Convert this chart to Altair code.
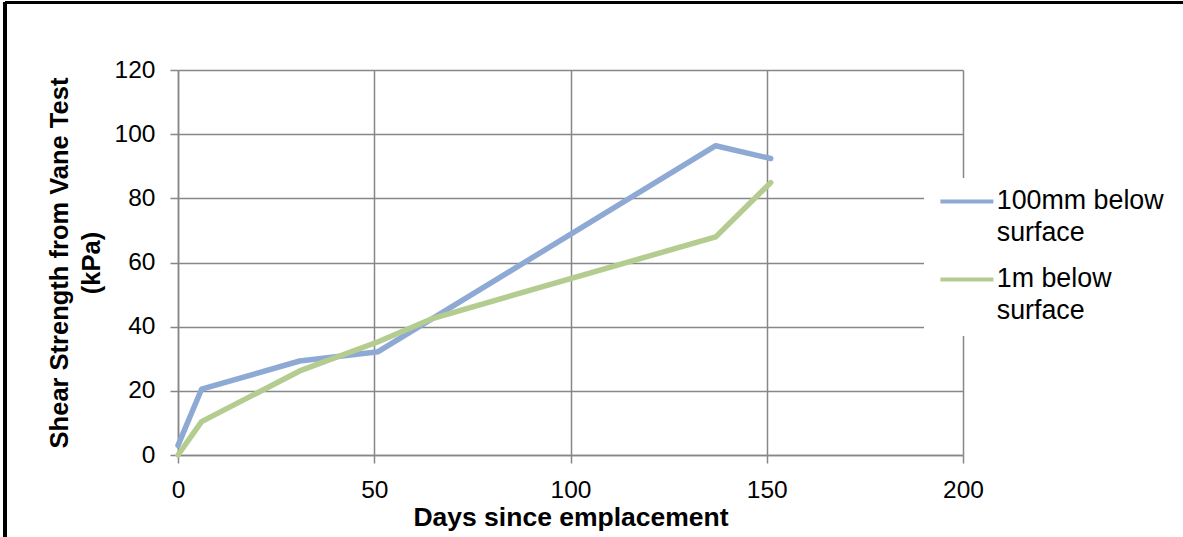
import altair as alt
import pandas as pd

# Vane test readings for the two depths
days_shallow = [0, 6, 31, 51, 137, 151]
kpa_shallow = [3, 20.5, 29.3, 32.2, 96.4, 92.4]

days_deep = [0, 6, 31, 51, 65, 137, 151]
kpa_deep = [0, 10.4, 26.2, 35.3, 42.6, 68.0, 84.9]

series_names = ["100mm below surface", "1m below surface"]
series_colors = ["#8eaad4", "#b4cc8f"]

df = pd.concat([
    pd.DataFrame({"days": days_shallow, "kpa": kpa_shallow, "series": series_names[0]}),
    pd.DataFrame({"days": days_deep, "kpa": kpa_deep, "series": series_names[1]}),
])

FONT = "Liberation Sans"
GRID = "#878787"

lines = alt.Chart(df).mark_line(strokeWidth=5.5, strokeCap="round", strokeJoin="round").encode(
    x=alt.X("days:Q", scale=alt.Scale(domain=[0, 200], nice=False),
            axis=alt.Axis(values=[0, 50, 100, 150, 200], title="Days since emplacement")),
    y=alt.Y("kpa:Q", scale=alt.Scale(domain=[0, 120], nice=False),
            axis=alt.Axis(values=[0, 20, 40, 60, 80, 100, 120],
                          title=["Shear Strength from Vane Test", "(kPa)"],
                          titlePadding=10)),
    color=alt.Color("series:N",
                    scale=alt.Scale(domain=series_names, range=series_colors),
                    legend=alt.Legend(
                        title=None, orient="none", legendX=746, legendY=108,
                        fillColor="white", padding=10,
                        # short horizontal swatch drawn as a custom path
                        symbolType="M-1.4,0H9.2", symbolSize=100, symbolStrokeWidth=4,
                        labelFontSize=26.8, labelFont=FONT, labelColor="#000000",
                        labelLimit=400, labelOffset=36, rowPadding=18,
                        labelExpr="[replace(datum.label, ' surface', ''), 'surface']",
                    )),
)

# Outer frame edges of the chart area
frame_left = alt.Chart(df).mark_rule(color="black", strokeWidth=3).encode(
    x=alt.value(-173), y=alt.value(-68), y2=alt.value(470))
frame_top = alt.Chart(df).mark_rule(color="black", strokeWidth=3).encode(
    x=alt.value(-173), x2=alt.value(1005), y=alt.value(-67.5))

chart = alt.layer(lines, frame_left, frame_top).properties(
    width=785, height=385,
    padding={"left": 178, "top": 70, "right": 220, "bottom": 82},
    autosize=alt.AutoSizeParams(type="none"),
    background="white",
).configure(
    style={"guide-label": {"lineHeight": 32}}
).configure_view(stroke=None).configure_axis(
    grid=True, gridColor=GRID, gridWidth=1.5,
    domainColor=GRID, domainWidth=1.5,
    tickColor=GRID, tickWidth=1.5, tickSize=8,
    labelFont=FONT, labelFontSize=24.5, labelColor="#000000", labelPadding=15,
    labelFlush=False,
    titleFont=FONT, titleFontSize=25.5, titleFontWeight="bold", titleColor="#000000",
    titleLineHeight=32,
).configure_axisX(labelPadding=15, titleFontSize=26.5, titlePadding=3)

chart.save("out.html", embed_options={"renderer": "svg", "actions": False})
